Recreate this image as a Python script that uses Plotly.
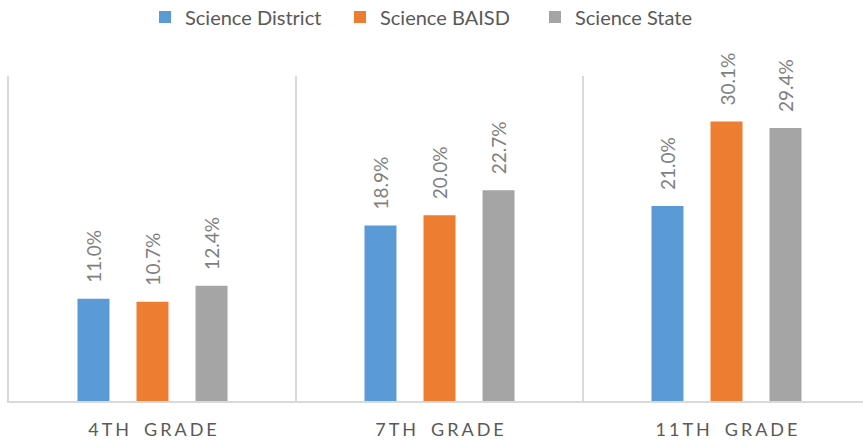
import plotly.graph_objects as go

categories = ["4TH GRADE", "7TH GRADE", "11TH GRADE"]
series_names = ["Science District", "Science BAISD", "Science State"]
district = [11.0, 18.9, 21.0]
baisd = [10.7, 20.0, 30.1]
state = [12.4, 22.7, 29.4]
colors = ["#5B9BD5", "#ED7D31", "#A5A5A5"]

values = [district, baisd, state]
W, H = 863, 443
left, bottom, top = 9, 42, 76
cat_px = 287.0
bargap = 0.383
bargroupgap = 0.458
font = "Lato"

def spaced(s):
    sp = "\u2006"
    return sp.join(list(s)).replace(sp + " " + sp, sp + "\u2002" + sp)

fig = go.Figure()
for name, vals, col in zip(series_names, values, colors):
    fig.add_trace(go.Bar(name=name, x=categories, y=vals, marker_color=col,
                         marker_line_width=0, hoverinfo="skip"))

slot = (1 - bargap) / len(series_names)
annotations = []
for j, vals in enumerate(values):
    for i, v in enumerate(vals):
        annotations.append(dict(
            x=i + (j - 1) * slot, y=v, xref="x", yref="y",
            text=f"{v:.1f}%", textangle=-90, showarrow=False,
            xanchor="center", yanchor="bottom", yshift=14,
            font=dict(family=font, size=19, color="#7F7F7F")))

span = (W - left) / cat_px
fig.update_layout(
    width=W, height=H,
    margin=dict(l=left, r=0, t=top, b=bottom),
    paper_bgcolor="white", plot_bgcolor="white",
    barmode="group", bargap=bargap, bargroupgap=bargroupgap,
    font=dict(family=font, color="#595959"),
    showlegend=True,
    legend=dict(orientation="h", x=0.5 + 6 / W, xref="container", xanchor="center",
                y=(H - 17) / H, yref="container", yanchor="middle",
                font=dict(family=font, size=20, color="#595959"),
                itemclick=False, entrywidth=150, entrywidthmode="pixels"),
    annotations=annotations,
    xaxis=dict(type="category", range=[-0.5, -0.5 + span],
               tickmode="array", tickvals=categories,
               ticktext=[spaced(c) for c in categories],
               tickson="boundaries", showgrid=True, gridcolor="#D9D9D9",
               gridwidth=1.5, showline=True, linecolor="#D9D9D9", linewidth=1.5,
               ticks="", tickfont=dict(family=font, size=18, color="#595959"),
               ticklabelstandoff=12, zeroline=False, fixedrange=True,
               automargin=False),
    yaxis=dict(range=[0, 35], showgrid=False, showticklabels=False,
               showline=True, linecolor="#D9D9D9", linewidth=1.5,
               zeroline=False, ticks="", fixedrange=True),
)
fig.write_html("out.html", config={"displayModeBar": False},
               post_script="document.body.style.margin='0';document.body.style.padding='0';")
